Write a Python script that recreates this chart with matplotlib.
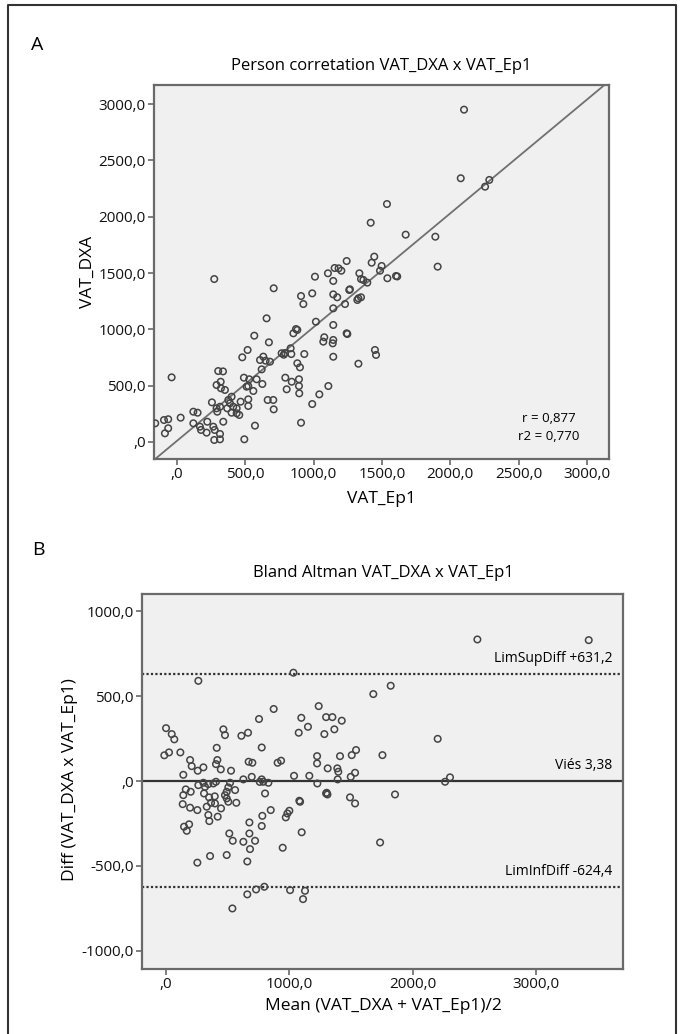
import numpy as np
import matplotlib
matplotlib.use("Agg")
import matplotlib.pyplot as plt
from matplotlib.ticker import FuncFormatter
from matplotlib.lines import Line2D

plt.rcParams['font.family'] = ['Open Sans', 'DejaVu Sans']

# Panel A: VAT_Ep1 (x) vs VAT_DXA (y)
vat_ep1 = [-159, -95, -64, -88, -64, -39, 27, 120, 151, 120, 168, 176, 217, 222, 256, 266, 276, 273,
           315, 315, 290, 315, 295, 339, 302, 337, 290, 320, 322, 351, 400, 388, 376, 368, 412, 437,
           400, 437, 456, 466, 493, 478, 517, 490, 529, 510, 522, 522, 522, 559, 566, 571, 583, 608,
           632, 649, 620, 625, 656, 664, 705, 673, 681, 708, 708, 766, 782, 790, 793, 803, 832, 837,
           840, 852, 871, 881, 881, 893, 893, 900, 932, 895, 908, 908, 925, 990, 990, 1017, 1042, 1108,
           1140, 1144, 1144, 1144, 1144, 1242, 273, 1010, 1105, 1144, 1144, 1173, 1154, 1183, 1203, 1242,
           1230, 1261, 2101, 2077, 2255, 2286, 1537, 1418, 1674, 1891, 1908, 1444, 1425, 1498, 1486, 1335,
           1347, 1364, 1393, 1540, 1603, 1612, 1266, 1320, 1347, 1328, 1078, 1071, 1247, 1328, 1449, 1457]
vat_dxa = [166, 195, 202, 77, 122, 574, 216, 269, 260, 166, 136, 107, 83, 180, 352, 136, 107, 18,
           24, 71, 299, 313, 269, 180, 630, 627, 506, 535, 477, 462, 402, 344, 373, 299, 313, 299,
           260, 255, 240, 358, 24, 752, 817, 571, 557, 491, 497, 379, 320, 453, 944, 145, 557, 728,
           758, 722, 645, 515, 1098, 373, 373, 885, 713, 290, 1365, 788, 775, 790, 571, 468, 832, 781,
           535, 965, 1003, 995, 699, 557, 497, 663, 781, 432, 171, 1296, 1225, 337, 1320, 1068, 423, 497,
           876, 906, 757, 1039, 1187, 965, 1447, 1468, 1498, 1430, 1311, 1285, 1545, 1542, 1521, 1607,
           1225, 1350, 2951, 2342, 2267, 2327, 2113, 1947, 1841, 1823, 1557, 1646, 1592, 1563, 1521, 1498,
           1447, 1439, 1415, 1454, 1474, 1470, 1356, 1261, 1285, 1276, 930, 891, 959, 695, 817, 773]
fit_slope = 1.01
fit_intercept = 10.0
r_text = "r = 0,877"
r2_text = "r2 = 0,770"

# Panel B: Bland Altman
ba_mean = [262, 1033, 0, 46, 67, -14, 24, 116, 140, 195, 208, 257, 303, 465, 478, 411, 416, 405, 444, 527,
           611, 665, 670, 700, 754, 776, 873, 905, 933, 1076, 1097, 1151, 1038, 1162, 1225, 1225, 1238,
           1284, 1298, 1349, 1365, 1425, 1311, 1389, 1397, 1411, 1506, 1541, 1498, 1533,
           262, 303, 343, 384, 405, 519, 560, 627, 695, 776, 789, 803, 830, 1081, 1227, 1303, 1392, 1492,
           1533, 760,
           140, 135, 200, 160, 146, 187, 168, 195, 254, 254, 316, 308, 330, 349, 365, 343, 351, 357, 395,
           397, 446, 419, 478, 492, 505, 492, 505, 570, 492, 513, 541, 538, 627, 676, 676, 681, 659, 722,
           659, 730, 797, 781, 776, 849, 946, 971, 984, 1000, 1006, 1087, 1100, 1111, 1127, 1298, 1309,
           1857, 1736, 2263, 2525, 3428, 1822, 1681, 2203, 1755, 2303]
ba_diff = [591, 639, 312, 277, 246, 152, 169, 169, 37, 124, 88, 61, 81, 305, 271, 196, 124, 100, 69, 61,
           267, 285, 114, 108, 366, 198, 425, 108, 120, 285, 373, 320, 31, 31, 147, 104, 442,
           277, 377, 377, 305, 356, 75, 75, 55, 147, 153, 183, 25, 49,
           -24, -10, -18, -14, -4, -10, -53, 10, 25, 10, -4, -73, -10, -116, -14, -69, 10, -96,
           -132, -5,
           -83, -136, -63, -49, -269, -255, -293, -157, -171, -481, -34, -73, -151, -96, -128, -200, -236, -442, -90,
           -132, -161, -210, -83, -63, -37, -102, -122, -128, -436, -309, -352, -751, -358, -244, -309, -401, -474, -352,
           -668, -639, -623, -205, -265, -171, -393, -214, -191, -175, -643, -122, -302, -696, -647, -73, -79,
           -79, -362, -4, 835, 831, 562, 513, 249, 153, 22]
bias = 3.38
lim_sup = 631.2
lim_inf = -624.4
lim_sup_text = "LimSupDiff +631,2"
bias_text = "Viés 3,38"
lim_inf_text = "LimInfDiff -624,4"

W, H = 680, 1034
fig = plt.figure(figsize=(W / 100, H / 100), dpi=100)


def fx(px):
    return px / W


def fy(py):
    return 1 - py / H


def spss_fmt(v, pos):
    s = f"{v:.1f}".replace(".", ",")
    if s.startswith("0,"):
        s = s[1:]
    if s == "-0,0":
        s = ",0"
    return s


def style_axes(ax):
    ax.set_facecolor("#f0f0f0")
    for sp in ax.spines.values():
        sp.set_color("#6a6a6a")
        sp.set_linewidth(1.6)
    ax.tick_params(direction="out", length=4, width=1.2, color="#6a6a6a",
                   labelsize=11, labelcolor="#111111", pad=2)
    ax.xaxis.set_major_formatter(FuncFormatter(spss_fmt))
    ax.yaxis.set_major_formatter(FuncFormatter(spss_fmt))


# ---- Panel A ----
axA = fig.add_axes([fx(154), fy(459), fx(609) - fx(154), fy(85) - fy(459)])
style_axes(axA)
axA.set_xlim(-168, 3162)
axA.set_ylim(-151, 3170)
axA.set_xticks([0, 500, 1000, 1500, 2000, 2500, 3000])
axA.set_yticks([0, 500, 1000, 1500, 2000, 2500, 3000])
xs = np.array([-300, 3400])
axA.plot(xs, fit_slope * xs + fit_intercept, color="#707070", lw=1.3, zorder=2)
axA.scatter(vat_ep1, vat_dxa, s=22, facecolors="none", edgecolors="#444444", linewidths=1.1, zorder=3)
axA.text(0.868, 0.108, r_text, transform=axA.transAxes, ha="center", va="center", fontsize=9.5)
axA.text(0.868, 0.06, r2_text, transform=axA.transAxes, ha="center", va="center", fontsize=9.5)

fig.text(fx(37), fy(45), "A", fontsize=14, ha="center", va="center")
fig.text(fx(381), fy(66), "Person corretation VAT_DXA x VAT_Ep1", fontsize=12, ha="center", va="center")
fig.text(fx(381), fy(499), "VAT_Ep1", fontsize=12.5, ha="center", va="center")
fig.text(fx(88), fy(272), "VAT_DXA", fontsize=12.5, ha="center", va="center", rotation=90)

# ---- Panel B ----
axB = fig.add_axes([fx(142), fy(969), fx(623) - fx(142), fy(594) - fy(969)])
style_axes(axB)
axB.set_xlim(-195, 3706)
axB.set_ylim(-1108, 1103)
axB.set_xticks([0, 1000, 2000, 3000])
axB.set_yticks([-1000, -500, 0, 500, 1000])
axB.axhline(bias, color="#333333", lw=1.6, zorder=2)
axB.axhline(lim_sup, color="#333333", lw=1.6, ls=(0, (1, 1)), zorder=2)
axB.axhline(lim_inf, color="#333333", lw=1.6, ls=(0, (1, 1)), zorder=2)
axB.scatter(ba_mean, ba_diff, s=22, facecolors="none", edgecolors="#444444", linewidths=1.1, zorder=3)
tr = axB.get_yaxis_transform()
for val, txt in [(lim_sup, lim_sup_text), (bias, bias_text), (lim_inf, lim_inf_text)]:
    axB.annotate(txt, xy=(0.978, val), xycoords=tr, xytext=(0, 11), textcoords="offset points",
                 ha="right", va="center", fontsize=10)

fig.text(fx(38), fy(550), "B", fontsize=14, ha="center", va="center")
fig.text(fx(383), fy(573), "Bland Altman VAT_DXA x VAT_Ep1", fontsize=12, ha="center", va="center")
fig.text(fx(383), fy(1006), "Mean (VAT_DXA + VAT_Ep1)/2", fontsize=12.5, ha="center", va="center")
fig.text(fx(70), fy(780), "Diff (VAT_DXA x VAT_Ep1)", fontsize=12.5, ha="center", va="center", rotation=90)

# outer frame
frame = Line2D([fx(8), fx(8), fx(676), fx(676)], [0, fy(5), fy(5), 0], transform=fig.transFigure,
               color="#333333", lw=1.5)
fig.add_artist(frame)

fig.savefig("out.png", dpi=100, facecolor="white")
